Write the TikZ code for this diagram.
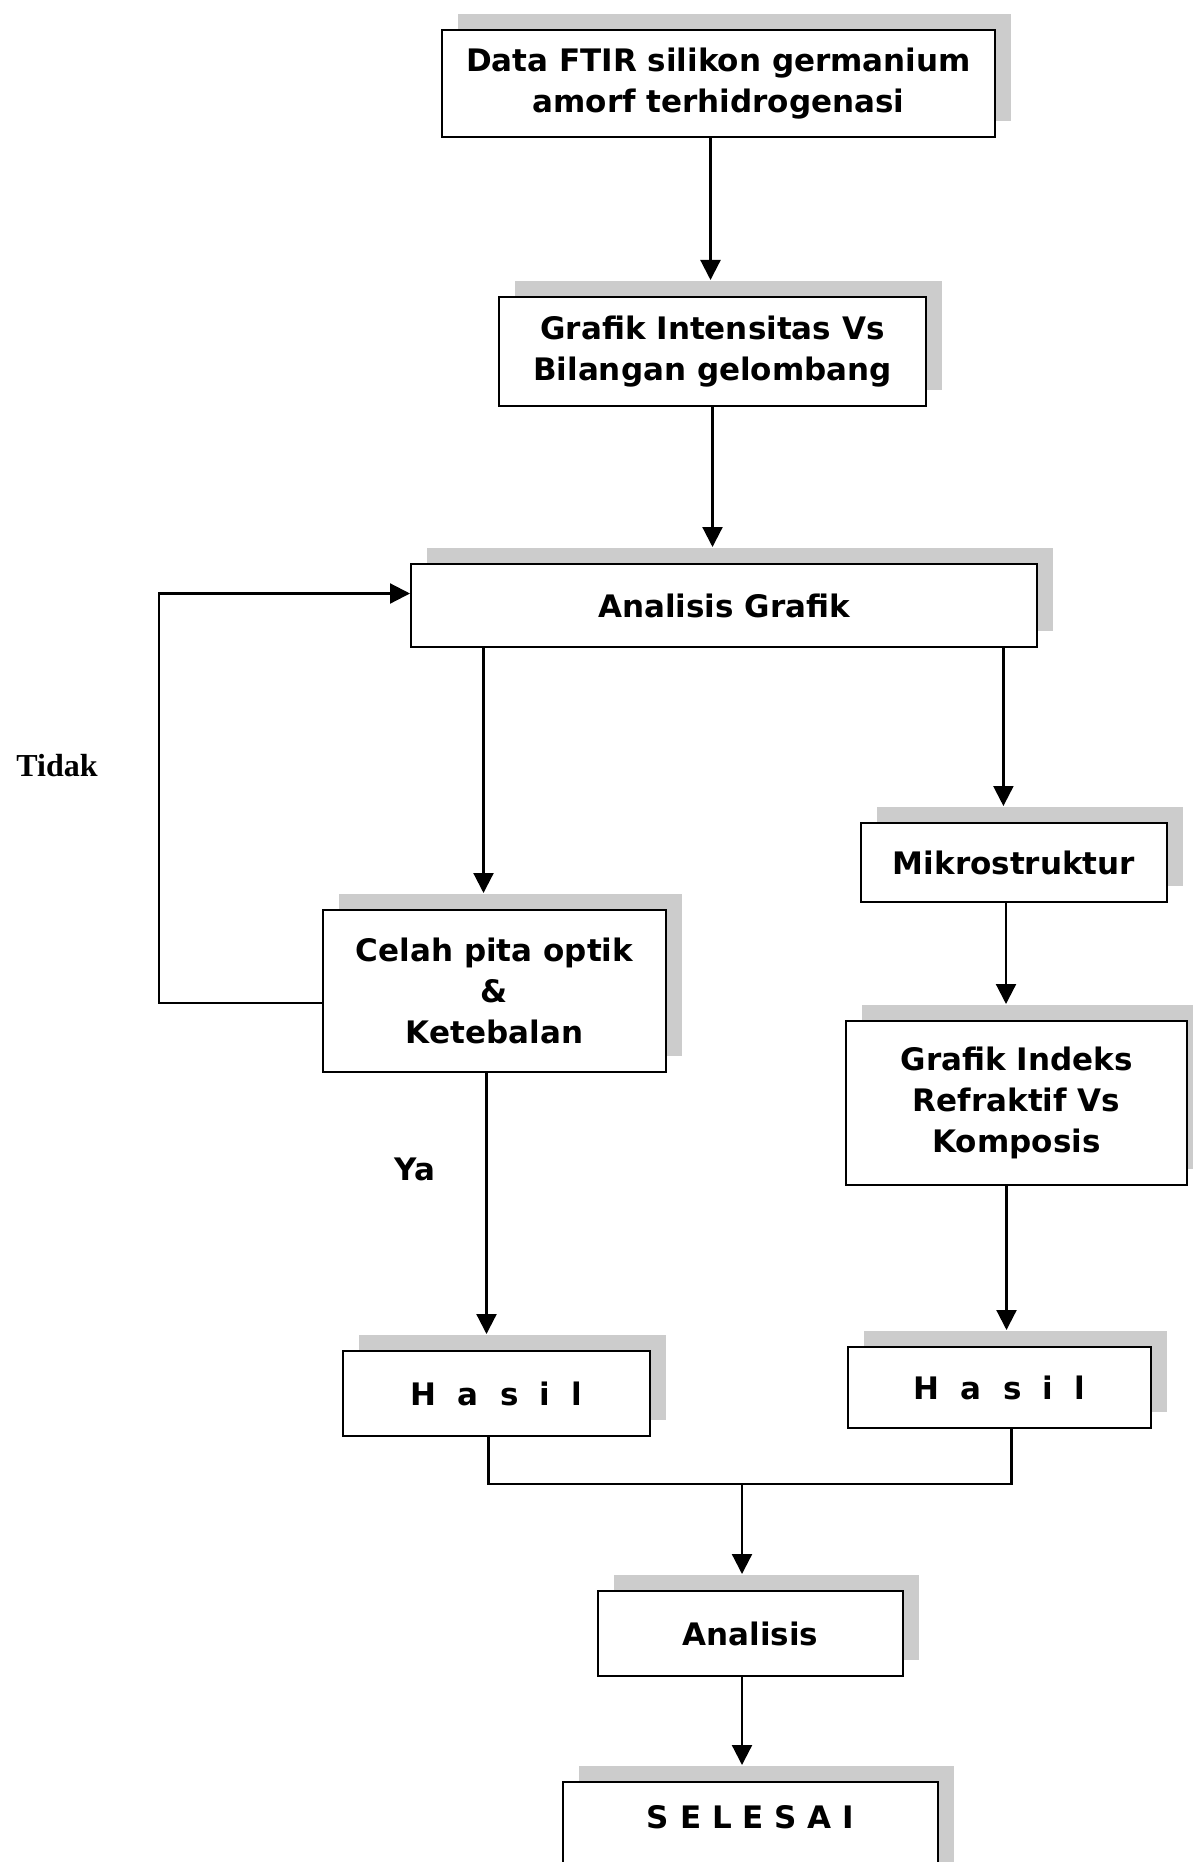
\documentclass[tikz,border=0pt]{standalone}
\usepackage{fontspec}
\setmainfont{DejaVu Sans}
\newfontfamily\serifkata{Liberation Serif}
\usetikzlibrary{arrows.meta, shadows}
\newcommand\tebal{\fontsize{15.5}{20.5}\selectfont\bfseries}

\tikzset{
    kotak/.style={draw, line width=1pt, fill=white, align=center, inner sep=0pt, font=\tebal,
        drop shadow={shadow xshift=8pt, shadow yshift=8pt, fill=gray!40, opacity=1}},
    panah/.style={-{Triangle[width=10pt,length=10pt]}, line width=1.1pt, shorten >=8pt},
    garis/.style={line width=1.1pt}
}

\begin{document}
\begin{tikzpicture}[x=0.5pt, y=-0.5pt]
    \useasboundingbox (0,0) rectangle (1193,1862);

    \node[kotak, minimum width=276.5pt, minimum height=53.5pt] (data) at (718.5,83.5)
        {Data FTIR silikon germanium\\amorf terhidrogenasi};
    \node[kotak, minimum width=213.5pt, minimum height=54.5pt] (grafik) at (712.5,351.5)
        {Grafik Intensitas Vs\\Bilangan gelombang};
    \node[kotak, minimum width=313pt, minimum height=41.5pt] (ana) at (724,605.5) {Analisis Grafik};
    \node[kotak, minimum width=171.5pt, minimum height=81pt] (celah) at (494.5,991)
        {Celah pita optik\\\&\\Ketebalan};
    \node[kotak, minimum width=153pt, minimum height=39.5pt] (mikro) at (1014,862.5) {Mikrostruktur};
    \node[kotak, minimum width=170.5pt, minimum height=82pt] (indeks) at (1016.5,1103)
        {Grafik Indeks\\Refraktif Vs\\Komposis};
    \node[kotak, minimum width=153.5pt, minimum height=42.5pt] (hasilA) at (496.5,1393.5)
        {\spaceskip=0.69em H a s i l};
    \node[kotak, minimum width=151.5pt, minimum height=40.5pt] (hasilB) at (999.5,1387.5)
        {\spaceskip=0.69em H a s i l};
    \node[kotak, minimum width=152.5pt, minimum height=42.5pt] (analisis) at (750.5,1633.5) {Analisis};
    \node[kotak, anchor=north, minimum width=187.5pt, inner ysep=12pt, text height=11pt, text depth=35pt]
        (selesai) at (750.5,1781) {S E L E S A I};

    \node[font=\serifkata\fontsize{16}{18}\selectfont\bfseries] (tidak) at (57,766) {Tidak};
    \node[font=\tebal] (ya) at (415,1169) {Ya};
    \coordinate (gabung) at (742,1484);

    \draw[panah] ([xshift=-1pt]grafik.north |- data.south) -- ([xshift=-1pt]grafik.north);
    \draw[panah] (grafik.south) -- (grafik.south |- ana.north);
    \draw[panah] ([xshift=-5.5pt]celah.north |- ana.south) -- ([xshift=-5.5pt]celah.north);
    \draw[panah] ([xshift=-5.3pt]mikro.north |- ana.south) -- ([xshift=-5.3pt]mikro.north);
    \draw[panah] ([xshift=-4pt]mikro.south) -- ([xshift=-4pt]mikro.south |- indeks.north);
    \draw[panah] ([xshift=-5pt]indeks.south) -- ([xshift=-5pt]indeks.south |- hasilB.north);
    \draw[panah] ([xshift=-4pt]celah.south) -- ([xshift=-4pt]celah.south |- hasilA.north);
    \draw[panah, shorten >=0pt] ([yshift=-6pt]celah.west) -- ++(-163,0) |- ([yshift=6pt]ana.west);
    \draw[garis] ([xshift=-4pt]hasilA.south) |- (gabung) -| ([xshift=6pt]hasilB.south);
    \draw[panah] (gabung) -- (gabung |- analisis.north);
    \draw[panah] (gabung |- analisis.south) -- (gabung |- selesai.north);

\end{tikzpicture}
\end{document}
